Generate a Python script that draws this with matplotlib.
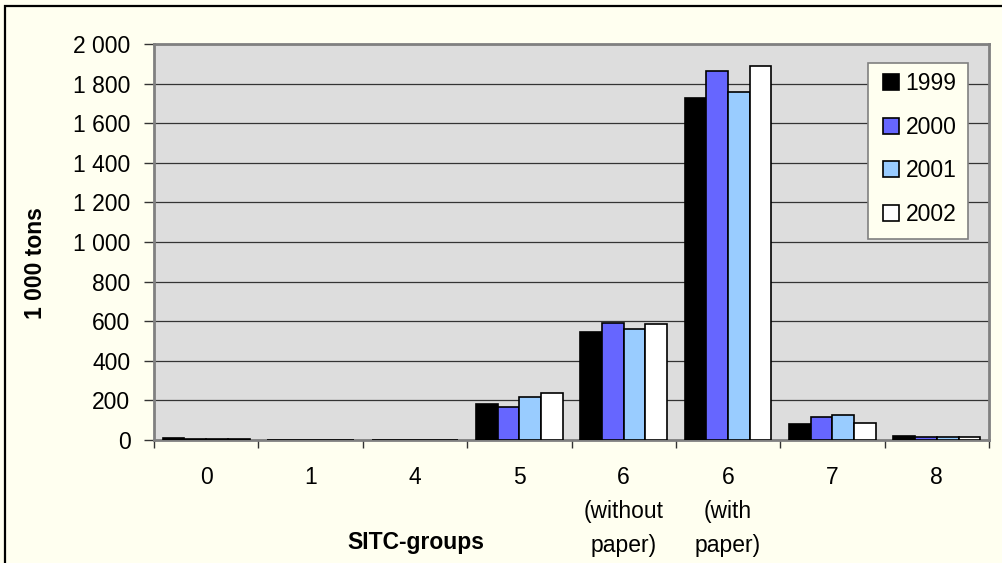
import matplotlib
matplotlib.use("Agg")
import matplotlib.pyplot as plt
from matplotlib.patches import Rectangle
from matplotlib.ticker import FixedLocator, FuncFormatter
import numpy as np

plt.rcParams['font.family'] = ['Liberation Sans', 'DejaVu Sans']

# SITC product groups and yearly volumes (1 000 tons)
groups = ["0", "1", "4", "5", "6\n(without\npaper)", "6\n(with\npaper)", "7", "8"]
years = ["1999", "2000", "2001", "2002"]
v1999 = [8, 0, 0, 182, 547, 1726, 81, 20]
v2000 = [7, 0, 0, 168, 592, 1865, 118, 14]
v2001 = [7, 0, 0, 219, 562, 1756, 126, 14]
v2002 = [7, 0, 0, 239, 584, 1887, 88, 14]
series = [v1999, v2000, v2001, v2002]
colors = ["#000000", "#6666FF", "#99CCFF", "#FFFFFF"]

bg = "#FFFFF0"
fs = 16.5
fig = plt.figure(figsize=(10.02, 5.63), dpi=100, facecolor=bg)
ax = fig.add_axes([154 / 1002, 1 - 440 / 563, 835 / 1002, 396 / 563])
ax.set_facecolor("#DDDDDD")

x = np.arange(len(groups))
bw = 0.208
for i, (vals, col, yr) in enumerate(zip(series, colors, years)):
    ax.bar(x + (i - 1.5) * bw, vals, width=bw, color=col, edgecolor="black",
           linewidth=1.2, label=yr, zorder=3)

ax.set_xlim(-0.5, len(groups) - 0.5)
ax.set_ylim(0, 2000)
ax.set_yticks(np.arange(0, 2001, 200))
ax.yaxis.set_major_formatter(FuncFormatter(lambda v, p: f"{int(v):,}".replace(",", " ")))
ax.yaxis.grid(True, color="#333333", linewidth=0.9, zorder=1)
ax.set_axisbelow(True)

# category labels centred on groups, tick marks at group boundaries
ax.set_xticks(x)
ax.set_xticklabels(groups, linespacing=1.62)
ax.xaxis.set_minor_locator(FixedLocator(np.arange(-0.5, len(groups), 1.0)))
ax.tick_params(axis="x", which="major", length=0, pad=18.5, labelsize=fs)
ax.tick_params(axis="x", which="minor", length=6, width=1, color="#333333")
ax.tick_params(axis="y", length=7, width=1, color="#333333", labelsize=fs, pad=10)

for s in ax.spines.values():
    s.set_color("#808080")
    s.set_linewidth(2)

# legend box drawn separately so the entries keep a wide inner margin
ax.add_patch(Rectangle((0.8551, 0.5076), 0.9749 - 0.8551, 0.952 - 0.5076,
                       transform=ax.transAxes, facecolor=bg, edgecolor="#808080",
                       linewidth=1.2, zorder=4))
leg = ax.legend(loc="upper left", bbox_to_anchor=(0.873, 0.929), frameon=False,
                fontsize=fs, handlelength=0.68, handleheight=0.68,
                labelspacing=0.9, handletextpad=0.3, borderpad=0,
                borderaxespad=0)
leg.set_zorder(5)

fig.text(416 / 1002, 1 - 549 / 563, "SITC-groups", ha="center", va="baseline",
         fontsize=fs, fontweight="bold")
fig.text(35 / 1002, 1 - 263 / 563, "1 000 tons", ha="center", va="center",
         rotation=90, fontsize=fs, fontweight="bold")

# outer chart frame
fig.patches.append(Rectangle((5 / 1002, -0.1), 1.2, 1 - 6 / 563 + 0.1,
                             transform=fig.transFigure, fill=False,
                             edgecolor="black", linewidth=1.6))

fig.savefig("out.png", dpi=100, facecolor=bg)
